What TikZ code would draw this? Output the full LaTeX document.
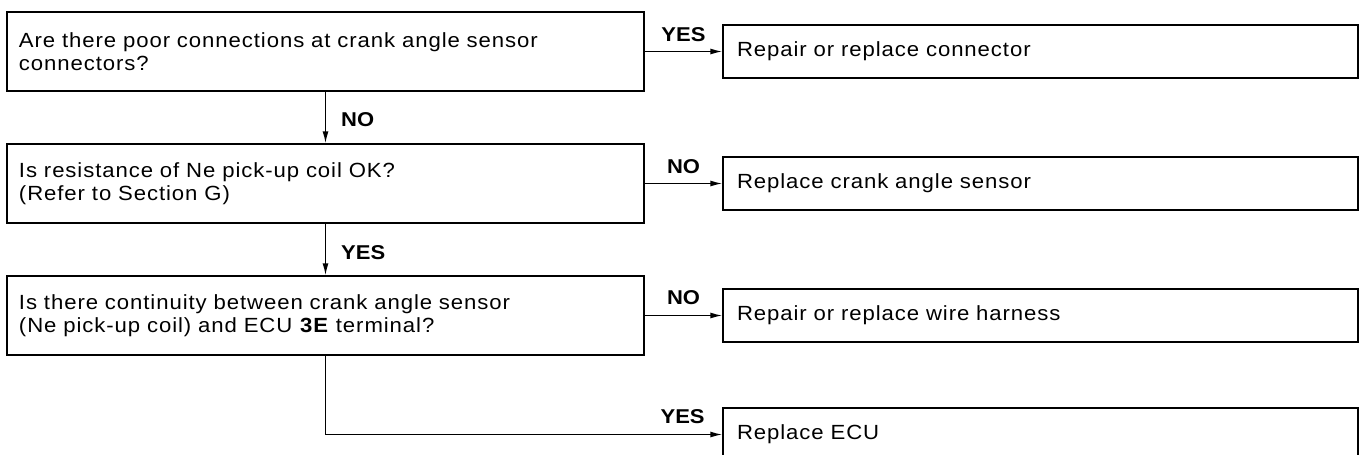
\documentclass[tikz,border=0pt]{standalone}
\usepackage{fontspec}
\setmainfont{Liberation Sans}[FakeStretch=1.08,LetterSpace=4.5]
\newfontfamily\lblfont{Liberation Sans}[FakeStretch=1.1]
\usetikzlibrary{calc, arrows.meta}

\begin{document}
\begin{tikzpicture}[x=1pt, y=-1pt,
    qbox/.style={draw, line width=1.4pt, minimum height=79pt, text width=613pt, inner xsep=12pt, align=left, font=\fontsize{20.5}{23.5}\selectfont},
    abox/.style={draw, line width=1.4pt, minimum height=53pt, text width=607pt, inner xsep=14pt, align=left, font=\fontsize{20.5}{23.5}\selectfont},
    lbl/.style={font=\lblfont\bfseries\fontsize{20}{23}\selectfont, inner sep=0pt},
    flow/.style={line width=1.4pt, -{Latex[length=12pt,width=6pt]}}]
            \useasboundingbox (0,0) rectangle (1363,455);
            \node[qbox] (q1) at (325.5,51.5) {Are there poor connections at crank angle sensor\\connectors?};
            \node[qbox] (q2) at (325.5,183.5) {Is resistance of Ne pick-up coil OK?\\(Refer to Section G)};
            \node[qbox] (q3) at (325.5,315.5) {Is there continuity between crank angle sensor\\(Ne pick-up coil) and ECU \textbf{3E} terminal?};
            \node[abox] (r1) at (1040.5,51.5) {Repair or replace connector};
            \node[abox] (r2) at (1040.5,183.5) {Replace crank angle sensor};
            \node[abox] (r3) at (1040.5,315.5) {Repair or replace wire harness};
            \node[abox] (r4) at (1040.5,434.5) {Replace ECU};
            \draw[flow] (q1) -- (q2) node[lbl, pos=0.68, anchor=base west, xshift=15pt] {NO};
            \draw[flow] (q2) -- (q3) node[lbl, pos=0.69, anchor=base west, xshift=15pt] {YES};
            \draw[flow] (q1) -- (r1) node[lbl, pos=0.5, anchor=base, yshift=10pt] {YES};
            \draw[flow] (q2) -- (r2) node[lbl, pos=0.5, anchor=base, yshift=10pt] {NO};
            \draw[flow] (q3) -- (r3) node[lbl, pos=0.5, anchor=base, yshift=11pt] {NO};
            \draw[flow] (q3) |- (r4) node[lbl, pos=0.95, anchor=base, yshift=11pt] {YES};
\end{tikzpicture}
\end{document}
